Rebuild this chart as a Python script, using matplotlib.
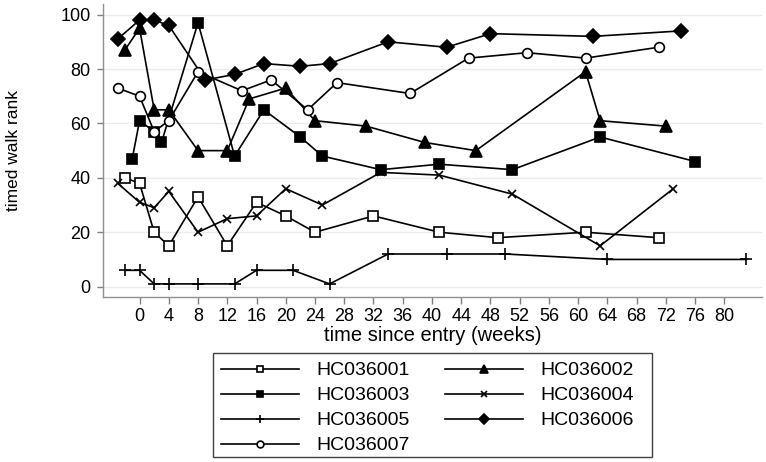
import matplotlib
matplotlib.use("Agg")
import matplotlib.pyplot as plt
from matplotlib.patches import Rectangle

plt.rcParams['font.family'] = ['Liberation Sans', 'DejaVu Sans']

# ---- data ----
labels = ["HC036001", "HC036002", "HC036003", "HC036004", "HC036005", "HC036006", "HC036007"]

w1 = [-2, 0, 2, 4, 8, 12, 16, 20, 24, 32, 41, 49, 61, 71]
v1 = [40, 38, 20, 15, 33, 15, 31, 26, 20, 26, 20, 18, 20, 18]

w2 = [-2, 0, 2, 4, 8, 12, 15, 20, 24, 31, 39, 46, 61, 63, 72]
v2 = [87, 95, 65, 65, 50, 50, 69, 73, 61, 59, 53, 50, 79, 61, 59]

w3 = [-1, 0, 2, 3, 8, 13, 17, 22, 25, 33, 41, 51, 63, 76]
v3 = [47, 61, 57, 53, 97, 48, 65, 55, 48, 43, 45, 43, 55, 46]

w4 = [-3, 0, 2, 4, 8, 12, 16, 20, 25, 33, 41, 51, 63, 73]
v4 = [38, 31, 29, 35, 20, 25, 26, 36, 30, 42, 41, 34, 15, 36]

w5 = [-2, 0, 2, 4, 8, 13, 16, 21, 26, 34, 42, 50, 64, 83]
v5 = [6, 6, 1, 1, 1, 1, 6, 6, 1, 12, 12, 12, 10, 10]

w6 = [-3, 0, 2, 4, 9, 13, 17, 22, 26, 34, 42, 48, 62, 74]
v6 = [91, 98, 98, 96, 76, 78, 82, 81, 82, 90, 88, 93, 92, 94]

w7 = [-3, 0, 2, 4, 8, 14, 18, 23, 27, 37, 45, 53, 61, 71]
v7 = [73, 70, 57, 61, 79, 72, 76, 65, 75, 71, 84, 86, 84, 88]

x_ticks = list(range(0, 81, 4))
y_ticks = [0, 20, 40, 60, 80, 100]

series = [(w1, v1), (w2, v2), (w3, v3), (w4, v4), (w5, v5), (w6, v6), (w7, v7)]

# marker styles: (marker, size, facecolor)
styles = [
    ("s", 7, "white"),
    ("^", 8, "black"),
    ("s", 6.5, "black"),
    ("x", 6, "black"),
    ("+", 9, "black"),
    ("D", 7.5, "black"),
    ("o", 7, "white"),
]

fig = plt.figure(figsize=(7.66, 4.62), dpi=100)
ax = fig.add_axes([103 / 766, 1 - 296.7 / 462, (761.7 - 103) / 766, (296.7 - 4) / 462])

handles = []
for (w, v), (m, ms, fc), lab in zip(series, styles, labels):
    ln, = ax.plot(w, v, color="black", lw=1.2, marker=m, markersize=ms,
                  markerfacecolor=fc, markeredgecolor="black",
                  markeredgewidth=1.2, label=lab, zorder=3)
    handles.append(ln)

ax.set_xlim(-5, 85.1)
ax.set_ylim(-3.7, 103.9)
ax.set_xticks(x_ticks)
ax.set_yticks(y_ticks)
ax.set_yticklabels([str(t) for t in y_ticks])
ax.tick_params(axis="both", labelsize=13, color="#808080", width=1)
ax.tick_params(axis="x", length=5, pad=3)
ax.tick_params(axis="y", length=4.5, pad=4.5)
ax.grid(axis="y", color="#ebebeb", lw=1, zorder=0)
ax.set_axisbelow(True)
for s in ("top", "right"):
    ax.spines[s].set_visible(False)
for s in ("left", "bottom"):
    ax.spines[s].set_color("#909090")
    ax.spines[s].set_linewidth(1)

ax.set_xlabel("time since entry (weeks)", fontsize=14.5, labelpad=0.5)
ax.set_ylabel("timed walk rank", fontsize=12.5)
ax.yaxis.set_label_coords(-0.125, 0.5)

# legend (row order via column-major handle ordering)
order = [0, 2, 4, 6, 1, 3, 5]
leg = fig.legend([handles[i] for i in order], [labels[i] for i in order],
                 ncol=2, loc="upper left",
                 bbox_to_anchor=(202 / 766, 1 - 342.4 / 462),
                 frameon=False, fontsize=14, handlelength=4.0,
                 handletextpad=0.9, columnspacing=1.8, labelspacing=0.38,
                 markerscale=0.7, borderpad=0.5)
fig.add_artist(Rectangle((212.7 / 766, 1 - 456.7 / 462),
                         (651.7 - 212.7) / 766, (456.7 - 353.3) / 462,
                         transform=fig.transFigure, fill=False,
                         edgecolor="#404040", lw=1))

fig.savefig("out.png", dpi=100)
